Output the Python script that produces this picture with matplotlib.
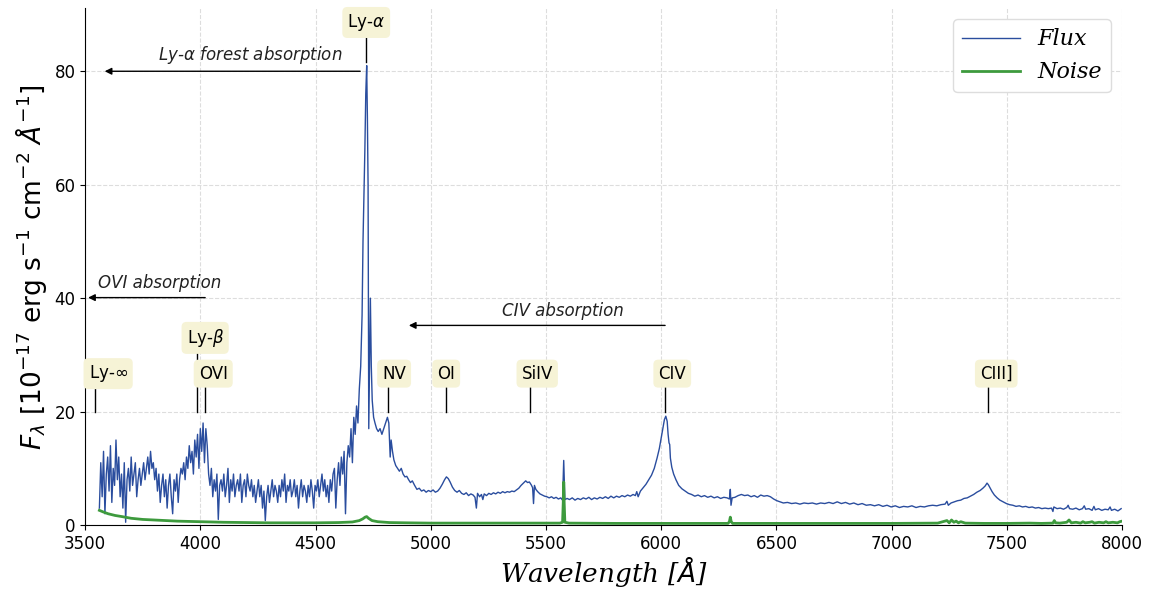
import matplotlib
matplotlib.use("Agg")
import matplotlib.pyplot as plt
import numpy as np

# Ly-alpha forest, sampled every 6 A from 3562 A
FOREST_START, FOREST_STEP = 3562, 6
FOREST_FLUX = [
    3, 11, 5, 13, 2, 9, 12, 6, 14, 4,
    10, 7, 15, 8, 12, 5, 9, 3, 11, 0.5,
    8, 10, 6, 12, 7, 9, 11, 5, 8, 10,
    7, 9, 11, 8, 10, 12, 9, 13, 10, 11,
    8, 10, 6, 9, 4, 7, 9, 5, 8, 3,
    7, 9, 5, 2, 8, 6, 9, 4, 8, 10,
    9, 11, 8, 12, 10, 14, 11, 13, 9, 15,
    12, 16, 10, 17, 13, 18, 11, 17, 14, 9,
    7, 10, 5, 8, 6, 9, 1, 7, 8, 6,
    9, 5, 7, 10, 4, 8, 6, 9, 5, 7,
    8, 6, 9, 4, 7, 8, 5, 9, 7, 6,
    8, 5, 7, 4, 6, 8, 5, 7, 3, 6,
    0.8, 5, 7, 4, 6, 8, 5, 7, 6, 4,
    7, 5, 8, 6, 9, 4, 7, 6, 8, 5,
    6, 8, 5, 7, 3, 6, 8, 5, 7, 6,
    4, 7, 5, 8, 6, 3, 7, 6, 8, 5,
    7, 9, 6, 8, 5, 7, 4, 8, 6, 9,
    10, 3, 8, 11, 7, 12, 9, 13, 2, 11,
    14, 12, 17, 11, 19, 16, 21, 18, 24,
]

# (wavelength, flux)
LYA_REGION = [
    (4696, 28), (4702, 37), (4706, 50), (4710, 58), (4714, 66), (4718, 76),
    (4722, 81), (4725, 72), (4728, 60), (4731, 17), (4735, 30), (4738, 40),
    (4742, 28), (4746, 22), (4752, 19), (4758, 18), (4765, 17), (4772, 16.5),
    (4780, 17), (4788, 16), (4796, 17), (4804, 18), (4812, 19), (4818, 18),
    (4824, 12), (4828, 15), (4834, 13), (4840, 11.5), (4848, 10.5), (4856, 10),
    (4864, 9.5), (4872, 10), (4880, 9), (4888, 8.5), (4896, 8.6), (4904, 8),
    (4912, 7.5), (4920, 7.8), (4930, 7), (4940, 6.3), (4950, 6.5), (4960, 6),
    (4970, 6.2), (4980, 5.8), (4990, 6.1),
]
OI_SIIV_REGION = [
    (5000, 5.9), (5010, 6.2), (5020, 5.8), (5030, 6.0), (5040, 6.5), (5050, 7.2),
    (5060, 8.0), (5068, 8.5), (5076, 8.2), (5084, 7.6), (5094, 6.7), (5104, 6.1),
    (5114, 5.8), (5124, 6.1), (5134, 5.6), (5144, 5.4), (5154, 5.7), (5164, 5.2),
    (5174, 5.5), (5184, 5.3), (5192, 4.9), (5198, 3.0), (5203, 5.6), (5212, 5.0),
    (5220, 5.4), (5226, 4.5), (5232, 5.5), (5242, 5.2), (5252, 5.6), (5262, 5.4),
    (5272, 5.7), (5282, 5.5), (5292, 5.8), (5302, 5.6), (5312, 5.9), (5322, 5.7),
    (5332, 5.9), (5342, 5.8), (5352, 6.0), (5362, 5.9), (5372, 6.2), (5382, 6.5),
    (5392, 7.0), (5402, 7.4), (5412, 7.8), (5420, 7.5), (5428, 7.6), (5436, 7.1),
    (5442, 6.6), (5446, 3.8), (5450, 7.0), (5456, 6.3), (5464, 5.9), (5474, 5.5),
    (5484, 5.3), (5494, 5.1), (5504, 5.0), (5514, 4.8), (5524, 5.0), (5534, 4.7),
    (5544, 4.9), (5554, 4.6), (5564, 4.8), (5572, 4.4), (5577, 11.4), (5582, 4.5),
]
CIV_REGION = [
    (5592, 4.7), (5602, 4.5), (5614, 4.8), (5626, 4.4), (5638, 4.7), (5650, 4.5),
    (5662, 4.8), (5674, 4.6), (5686, 4.9), (5698, 4.5), (5710, 4.8), (5722, 4.6),
    (5734, 4.9), (5746, 4.7), (5758, 5.0), (5770, 4.7), (5782, 5.1), (5794, 4.8),
    (5806, 5.1), (5818, 4.9), (5830, 5.2), (5842, 5.0), (5854, 5.3), (5866, 5.1),
    (5878, 5.4), (5888, 5.2), (5894, 5.9), (5900, 5.0), (5910, 6.0), (5922, 6.6),
    (5934, 7.2), (5946, 8.0), (5958, 8.8), (5970, 10.0), (5982, 11.8), (5992, 13.5),
    (6000, 15.3), (6008, 17.2), (6014, 18.6), (6020, 19.2), (6026, 18.3), (6030, 16.0),
    (6034, 14.5), (6037, 14.2), (6040, 11.8), (6046, 10.2), (6054, 9.0), (6064, 8.0),
    (6076, 7.0), (6090, 6.4), (6104, 6.0), (6118, 5.6), (6132, 5.4), (6146, 5.1),
    (6160, 5.3), (6174, 5.0), (6188, 5.2), (6202, 4.9), (6216, 5.1), (6230, 4.8),
    (6244, 5.0), (6258, 4.7), (6272, 4.9), (6286, 4.8), (6296, 4.6), (6300, 6.3),
    (6303, 3.5), (6308, 4.8), (6320, 4.9), (6334, 5.2), (6348, 5.4), (6362, 5.2),
    (6376, 5.3), (6390, 5.0), (6404, 5.2), (6418, 4.9), (6432, 5.3), (6446, 5.1),
    (6460, 5.2), (6474, 5.0), (6488, 4.6), (6502, 4.3), (6516, 4.1), (6530, 3.9),
]
RED_REGION = [
    (6548, 4.0), (6566, 3.8), (6584, 3.9), (6602, 3.7), (6620, 3.9), (6638, 3.8),
    (6656, 3.9), (6674, 3.7), (6692, 3.9), (6710, 3.8), (6728, 4.0), (6746, 3.8),
    (6764, 4.1), (6782, 3.8), (6800, 4.0), (6818, 3.7), (6836, 3.9), (6854, 3.6),
    (6872, 3.8), (6890, 3.5), (6908, 3.6), (6926, 3.4), (6944, 3.6), (6962, 3.3),
    (6980, 3.5), (6998, 3.2), (7016, 3.4), (7034, 3.1), (7052, 3.3), (7070, 3.2),
    (7088, 3.4), (7106, 3.1), (7124, 3.3), (7142, 3.2), (7160, 3.4), (7178, 3.5),
    (7196, 3.4), (7214, 3.6), (7232, 3.7), (7240, 4.2), (7246, 3.5), (7258, 3.9),
    (7272, 4.1), (7286, 4.3), (7300, 4.4), (7314, 4.7), (7328, 4.8), (7342, 5.1),
    (7356, 5.4), (7370, 5.8), (7384, 6.1), (7396, 6.5), (7406, 6.9), (7414, 7.4),
    (7420, 7.1), (7428, 6.5), (7436, 5.9), (7446, 5.3), (7458, 4.8), (7470, 4.4),
    (7484, 4.1), (7498, 3.8), (7512, 3.6), (7526, 3.5), (7540, 3.3), (7554, 3.4),
    (7568, 3.2), (7582, 3.3), (7596, 3.1), (7610, 3.2), (7624, 3.0), (7638, 3.1),
    (7652, 2.9), (7666, 3.0), (7680, 2.9), (7694, 3.0), (7700, 2.4), (7704, 3.2),
    (7718, 2.9), (7732, 3.0), (7746, 2.8), (7760, 3.1), (7766, 3.5), (7772, 2.9),
    (7786, 2.8), (7800, 3.0), (7814, 2.7), (7828, 2.9), (7836, 3.4), (7842, 2.8),
    (7856, 2.9), (7870, 2.6), (7878, 3.3), (7884, 2.7), (7898, 2.9), (7912, 2.6),
    (7926, 2.8), (7940, 2.7), (7948, 3.2), (7954, 2.6), (7968, 2.8), (7982, 2.5),
    (7996, 2.9),
]
NOISE = [
    (3562, 2.6), (3580, 2.3), (3600, 2.0), (3630, 1.7), (3660, 1.5), (3700, 1.2),
    (3750, 1.0), (3800, 0.9), (3850, 0.8), (3900, 0.7), (3950, 0.65), (4000, 0.6),
    (4050, 0.55), (4100, 0.5), (4200, 0.45), (4300, 0.4), (4400, 0.4), (4500, 0.4),
    (4600, 0.45), (4660, 0.55), (4690, 0.8), (4705, 1.1), (4715, 1.4), (4722, 1.5),
    (4730, 1.2), (4745, 0.8), (4770, 0.6), (4820, 0.45), (4900, 0.4), (5000, 0.35),
    (5200, 0.35), (5400, 0.35), (5560, 0.35), (5572, 0.5), (5575, 4.0), (5577, 7.6),
    (5579, 4.0), (5582, 0.5), (5600, 0.35), (5800, 0.3), (6000, 0.3), (6200, 0.3),
    (6290, 0.3), (6296, 0.6), (6300, 1.4), (6304, 0.6), (6310, 0.3), (6400, 0.3),
    (6500, 0.3), (6600, 0.3), (6800, 0.3), (7000, 0.3), (7200, 0.35), (7240, 0.8),
    (7250, 0.4), (7260, 0.9), (7270, 0.5), (7280, 0.7), (7290, 0.4), (7300, 0.6),
    (7320, 0.35), (7400, 0.3), (7500, 0.3), (7600, 0.35), (7650, 0.3), (7700, 0.35),
    (7706, 0.8), (7712, 0.4), (7730, 0.35), (7760, 0.5), (7770, 0.9), (7780, 0.4),
    (7800, 0.5), (7820, 0.35), (7830, 0.6), (7840, 0.4), (7860, 0.5), (7870, 0.6),
    (7880, 0.35), (7900, 0.5), (7920, 0.4), (7930, 0.6), (7940, 0.4), (7960, 0.5),
    (7980, 0.4), (7990, 0.6), (8000, 0.7),
]

# emission-line markers: name, line wavelength, label centre, label height
LINE_NAMES = [r"Ly-$\infty$", r"Ly-$\beta$", "OVI", r"Ly-$\alpha$", "NV", "OI", "SiIV", "CIV", "CIII]"]
LINE_WL = [3543, 3986, 4021, 4720, 4815, 5067, 5431, 6017, 7419]
LABEL_WL = [3600, 4021, 4056, 4720, 4841, 5067, 5462, 6048, 7454]
LABEL_Y = [26.7, 33.0, 26.7, 88.6, 26.7, 26.7, 26.7, 26.7, 26.7]
LINE_Y0 = [20, 20, 20, 81.6, 20, 20, 20, 20, 20]
LINE_Y1 = [24.6, 30.4, 24.6, 85.9, 24.6, 24.6, 24.6, 24.6, 24.6]

# absorption arrows: text, start, end, y, text centre
ABS_TEXT = [r"Ly-$\alpha$ forest absorption", "OVI absorption", "CIV absorption"]
ABS_FROM = [4694, 4021, 6017]
ABS_TO = [3585, 3513, 4905]
ABS_Y = [80.0, 40.1, 35.2]
ABS_TEXT_X = [4216, 3825, 5575]

forest_wl = FOREST_START + FOREST_STEP * np.arange(len(FOREST_FLUX))
rest = np.array(LYA_REGION + OI_SIIV_REGION + CIV_REGION + RED_REGION)
wave = np.concatenate([forest_wl, rest[:, 0]])
flux = np.concatenate([FOREST_FLUX, rest[:, 1]])
noise = np.array(NOISE)

fig = plt.figure(figsize=(11.5, 5.92), dpi=100)
ax = fig.add_axes([0.074, 0.113, 0.9017, 0.873])

ax.plot(wave, flux, color="#2a4d9e", lw=1.0, label="Flux")
ax.plot(noise[:, 0], noise[:, 1], color="#3d9a3d", lw=2.0, label="Noise")

box = dict(boxstyle="round,pad=0.3", facecolor="#f6f3d6", edgecolor="none")
for name, lw, tx, ty, y0, y1 in zip(LINE_NAMES, LINE_WL, LABEL_WL, LABEL_Y, LINE_Y0, LINE_Y1):
    ax.plot([lw, lw], [y0, y1], color="black", lw=1.0)
    ax.text(tx, ty, name, ha="center", va="center", fontsize=12, bbox=box)

for txt, x0, x1, y, tx in zip(ABS_TEXT, ABS_FROM, ABS_TO, ABS_Y, ABS_TEXT_X):
    ax.annotate("", xy=(x1, y), xytext=(x0, y),
                arrowprops=dict(arrowstyle="-|>", color="black", lw=1.0,
                                mutation_scale=10, shrinkA=0, shrinkB=0))
    ax.text(tx, y + 1.0, txt, ha="center", va="bottom", fontsize=12,
            style="italic", color="#222222")

ax.set_xlim(3500, 8000)
ax.set_ylim(0, 91.1)
ax.set_xticks(np.arange(3500, 8001, 500))
ax.set_yticks([0, 20, 40, 60, 80])
ax.tick_params(labelsize=12)
ax.spines["top"].set_visible(False)
ax.spines["right"].set_visible(False)
ax.grid(True, linestyle="--", color="#dddddd", linewidth=0.8)
ax.set_axisbelow(True)

ax.set_xlabel(r"Wavelength [$\AA$]", fontsize=19, family="DejaVu Serif",
              style="italic", labelpad=1)
ax.set_ylabel(r"$F_\lambda\ [10^{-17}$ erg s$^{-1}$ cm$^{-2}$ $\AA^{-1}]$", fontsize=19)
ax.legend(loc="upper right", prop=dict(family="DejaVu Serif", style="italic", size=16),
          handlelength=2.6, framealpha=1.0, edgecolor="#dddddd")

fig.savefig("out.png", dpi=100)
